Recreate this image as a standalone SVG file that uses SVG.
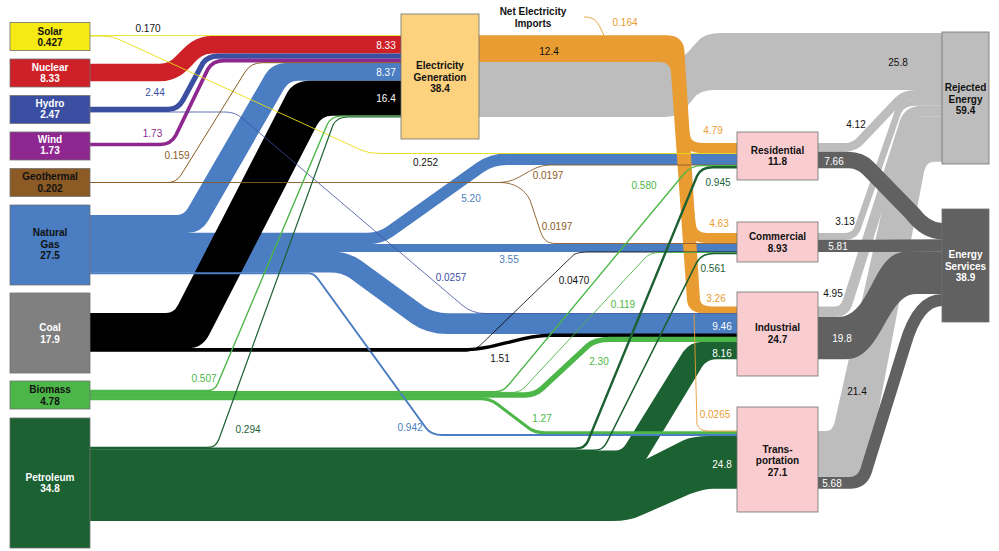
<svg xmlns="http://www.w3.org/2000/svg" width="999" height="551" viewBox="0 0 999 551">
<style>
text{font-family:"Liberation Sans",Arial,sans-serif;font-size:10px;text-anchor:middle}
.n{font-weight:700;font-size:10px}
.w{fill:#fff}
.k{fill:#111}
.box{stroke:#707070;stroke-width:0.8}
.f{fill:none;stroke-linecap:butt}
</style>
<rect width="999" height="551" fill="#fff"/>
<g id="connectors">
<!-- rejected from electricity -->
<path fill="#bdbdbd" d="M479,62 H662 Q680,62 688,52 L698,41 Q705,33 720,33 H942 V90 H714 Q700,90 694,98 L684,110 Q678,117 664,117 H479 Z"/>
<!-- sector to rejected -->
<path fill="#bdbdbd" d="M818,431 H826 Q833,431 835,421 L900,130 Q904,116.2 920,116.2 H942 V161.8 H934 Q926,161.8 924,172 L868,466 Q865,476.6 852,476.6 H818 Z"/>
<path class="f" stroke="#bdbdbd" stroke-width="8.8" d="M818,147.4 H845 Q855,147.4 862,139 L898,101 Q904,94.5 916,94.5 H942"/>
<path class="f" stroke="#bdbdbd" stroke-width="6.7" d="M818,236.3 H845 Q855,236.3 858,227 L898,112 Q902,102.4 915,102.4 H942"/>
<path class="f" stroke="#bdbdbd" stroke-width="10.5" d="M818,311.75 H835 Q845,311.75 848,301 L905,122 Q909,111 922,111 H942"/>
<!-- sector to services -->
<path class="f" stroke="#616161" stroke-width="16.3" d="M818,160 H848 Q860,160 868,168 L912,213 Q926,231.2 942,231.2"/>
<path class="f" stroke="#616161" stroke-width="12.4" d="M818,245.9 H870 C900,245.9 905,245.5 942,245.5"/>
<path fill="#616161" d="M818,317 H838 C872,317 872,251.7 906,251.7 H942 V293.9 H916 C886,293.9 882,359.2 846,359.2 H818 Z"/>
<path class="f" stroke="#616161" stroke-width="12.1" d="M818,482.7 H850 Q862,482.7 866,471 L905,345 Q918,300 942,300"/>
<!-- petroleum -->
<path fill="#1b6131" d="M90,468.2 H628 L683,440.5 Q692,436 710,436 H737 V488.8 H714 Q704,488.8 690,494 L642,515 Q630,521 612,521 H90 Z"/>
<path fill="#1b6131" d="M90,450.6 H615 Q622,450.6 626,444 L683,352 Q690,341.8 703,341.8 H737 V359.2 H716 Q707,359.2 702,367 L645,461 Q641,469 630,469 H90 Z"/>
<!-- natural gas -->
<path class="f" stroke="#4a7dc1" stroke-width="20.8" d="M90,262 H330 Q345,262 355,269 L418,315 Q430,323.6 448,323.6 H737"/>
<path class="f" stroke="#4a7dc1" stroke-width="8.2" d="M90,248 H737"/>
<path class="f" stroke="#4a7dc1" stroke-width="11.6" d="M90,238.5 H368 Q380,238.5 390,231.5 L480,167.5 Q492,159.25 507,159.25 H737"/>
<path fill="#4a7dc1" d="M90,215 H177 Q184,215 188,208 L265,75 Q272,62.9 287,62.9 H401 V80.8 H298 Q289,80.8 284,89 L208,221 Q201,233 187,233 H90 Z"/>
<!-- coal -->
<path fill="#000" d="M90,313 H166 Q174,313 178,305 L287,93 Q294,80.8 310,80.8 H401 V115.7 H332 Q322,115.7 317,125 L209,335 Q202,348.3 188,348.3 H90 Z"/>
<path class="f" stroke="#000" stroke-width="3.4" d="M90,349.6 H468 C495,349.6 520,335.3 550,335.3 H737"/>
<!-- biomass -->
<path class="f" stroke="#4cb748" stroke-width="5.4" d="M90,395 H525 Q535,395 542,388.6 L588,345.7 Q595,339.35 610,339.35 H737"/>
<path class="f" stroke="#4cb748" stroke-width="3" d="M90,398.85 H480 Q490,398.85 497,404 L528,427.5 Q534,432.65 545,432.65 H737"/>
<!-- nuclear, hydro, wind -->
<path class="f" stroke="#cd2027" stroke-width="17.7" d="M90,72.5 H160 C186,72.5 186,44.75 212,44.75 H401"/>
<path class="f" stroke="#3b4fa2" stroke-width="5.2" d="M90,109.4 H168 Q178,109.4 183,100 L203,63 Q208,56.2 218,56.2 H401"/>
<path class="f" stroke="#8e278f" stroke-width="3.7" d="M90,144.5 H160 Q171,144.5 176,135 L208,69 Q213,60.65 224,60.65 H401"/>
<!-- electricity -->
<path fill="#e99c32" d="M479,35.2 H666 Q684,35.2 684.5,52 L700,300 Q701,306.5 712,306.5 H737 V313.5 H706 Q688,313.5 687,300 L671,72 Q670,62 660,62 H479 Z"/>
<path class="f" stroke="#e99c32" stroke-width="10.2" d="M682,118 L685,136 Q687,148.1 702,148.1 H737"/>
<path class="f" stroke="#e99c32" stroke-width="10" d="M689,210 L691,226 Q693,238 707,238 H737"/>
<path class="f" stroke="#e99c32" stroke-width="0.9" d="M694,313 L697,424 Q699,431 708,431 H737"/>
<path class="f" stroke="#e99c32" stroke-width="0.9" d="M584,17 C595,17 597,22 600,27 L604,35.5"/>
<!-- thin lines -->
<path class="f" stroke="#e8dc10" stroke-width="0.8" d="M90,35.5 H401"/>
<path class="f" stroke="#e8dc10" stroke-width="0.9" d="M90,36 C104,36 110,36 118,39 L360,149.5 Q368,153.5 380,153.5 H737"/>
<path class="f" stroke="#3b4fa2" stroke-width="0.8" d="M90,112 H225 Q235,112 242,118 L462,305 Q472,313.5 485,313.5 H737"/>
<path class="f" stroke="#8b5a25" stroke-width="1" d="M90,182.5 H168 Q176,182.5 181,175 L245,72 Q251,62.7 262,62.7 H401"/>
<path class="f" stroke="#8b5a25" stroke-width="0.9" d="M90,182.5 H500 C520,182.5 530,165 550,165 H737"/>
<path class="f" stroke="#8b5a25" stroke-width="0.9" d="M500,182.5 C515,182.5 525,190 530,200 L540,230 C543,239 546,243.5 556,243.5 H737"/>
<path class="f" stroke="#4a7dc1" stroke-width="2" d="M90,273.2 H308 Q314,273.2 318,279 L426,428 Q431,435 442,435 H737"/>
<path class="f" stroke="#000" stroke-width="0.8" d="M90,351.4 H466 Q474,351.4 480,345.5 L574,254.5 Q578,252 590,252 H737"/>
<path class="f" stroke="#4cb748" stroke-width="1.4" d="M90,390.5 H208 Q215,390.5 218,383 L327,125 Q331,116.1 342,116.1 H401"/>
<path class="f" stroke="#4cb748" stroke-width="1.4" d="M90,391.7 H495 Q503,391.7 508,385.5 L683,175 Q690,165.6 702,165.6 H737"/>
<path class="f" stroke="#4cb748" stroke-width="0.9" d="M90,392.4 H512 Q520,392.4 525,387 L645,258 Q650,252.5 660,252.5 H737"/>
<path class="f" stroke="#1b6131" stroke-width="1.2" d="M90,447.4 H208 Q216,447.4 219,439 L333,125 Q337,117 348,117 H401"/>
<path class="f" stroke="#1b6131" stroke-width="2.4" d="M90,448.6 H575 Q585,448.6 588,441 L697,176 Q701,167.3 713,167.3 H737"/>
<path class="f" stroke="#1b6131" stroke-width="1.6" d="M90,450.2 H595 Q603,450.2 607,442 L697,262 Q702,253.5 714,253.5 H737"/>
</g>
<g id="node-solar"><rect class="box" x="10" y="22.5" width="80" height="28" fill="#f5ea14"/><text class="n k" x="50" y="34.5">Solar</text><text class="n k" x="50" y="46">0.427</text></g>
<g id="node-nuclear"><rect class="box" x="10" y="59" width="80" height="28" fill="#cd2027"/><text class="n w" x="50" y="70.5">Nuclear</text><text class="n w" x="50" y="82">8.33</text></g>
<g id="node-hydro"><rect class="box" x="10" y="95.5" width="80" height="28" fill="#3b4fa2"/><text class="n w" x="50" y="106.5">Hydro</text><text class="n w" x="50" y="118">2.47</text></g>
<g id="node-wind"><rect class="box" x="10" y="132" width="80" height="28" fill="#8e278f"/><text class="n w" x="50" y="142.5">Wind</text><text class="n w" x="50" y="154">1.73</text></g>
<g id="node-geothermal"><rect class="box" x="10" y="168.5" width="80" height="28" fill="#8b5a25"/><text class="n k" x="50" y="180">Geothermal</text><text class="n k" x="50" y="191.5">0.202</text></g>
<g id="node-natural-gas"><rect class="box" x="10" y="205" width="80" height="80" fill="#4a7dc1"/><text class="n k" x="50" y="236">Natural</text><text class="n k" x="50" y="247.5">Gas</text><text class="n k" x="50" y="259">27.5</text></g>
<g id="node-coal"><rect class="box" x="10" y="293" width="80" height="80" fill="#808080"/><text class="n w" x="50" y="331">Coal</text><text class="n w" x="50" y="342.5">17.9</text></g>
<g id="node-biomass"><rect class="box" x="10" y="381" width="80" height="28" fill="#4cb748"/><text class="n k" x="50" y="393">Biomass</text><text class="n k" x="50" y="404.5">4.78</text></g>
<g id="node-petroleum"><rect class="box" x="10" y="418" width="80" height="130" fill="#1b6131"/><text class="n w" x="50" y="480.5">Petroleum</text><text class="n w" x="50" y="492">34.8</text></g>
<g id="node-electricity"><rect class="box" x="401" y="14" width="78" height="125" fill="#fdd27e"/><text class="n k" x="440" y="69">Electricity</text><text class="n k" x="440" y="80.5">Generation</text><text class="n k" x="440" y="92">38.4</text></g>
<g id="node-imports"><text class="n k" x="533" y="15">Net Electricity</text><text class="n k" x="533" y="26.5">Imports</text></g>
<g id="node-residential"><rect class="box" x="737" y="132" width="81" height="48" fill="#f9ccd0"/><text class="n k" x="777.5" y="153.5">Residential</text><text class="n k" x="777.5" y="165">11.8</text></g>
<g id="node-commercial"><rect class="box" x="737" y="222" width="81" height="40" fill="#f9ccd0"/><text class="n k" x="777.5" y="240">Commercial</text><text class="n k" x="777.5" y="251.5">8.93</text></g>
<g id="node-industrial"><rect class="box" x="737" y="292" width="81" height="84" fill="#f9ccd0"/><text class="n k" x="777.5" y="331">Industrial</text><text class="n k" x="777.5" y="342.5">24.7</text></g>
<g id="node-transportation"><rect class="box" x="737" y="407" width="81" height="105" fill="#f9ccd0"/><text class="n k" x="777.5" y="452.5">Trans-</text><text class="n k" x="777.5" y="464">portation</text><text class="n k" x="777.5" y="475.5">27.1</text></g>
<g id="node-rejected"><rect class="box" x="942" y="32" width="47" height="132" fill="#bdbdbd"/><text class="n k" x="965.5" y="91">Rejected</text><text class="n k" x="965.5" y="102.5">Energy</text><text class="n k" x="965.5" y="114">59.4</text></g>
<g id="node-services"><rect class="box" x="942" y="209" width="47" height="113" fill="#616161"/><text class="n w" x="965.5" y="258">Energy</text><text class="n w" x="965.5" y="269.5">Services</text><text class="n w" x="965.5" y="281">38.9</text></g>
<g id="labels">
<text x="148" y="31.5" fill="#111">0.170</text>
<text x="386" y="48.5" class="w">8.33</text>
<text x="386" y="75.5" class="w">8.37</text>
<text x="386" y="101.5" class="w">16.4</text>
<text x="155" y="95.5" fill="#3b4fa2">2.44</text>
<text x="152.5" y="136.5" fill="#8e278f">1.73</text>
<text x="177" y="158.5" fill="#8b5a25">0.159</text>
<text x="425.5" y="165.5" fill="#111">0.252</text>
<text x="625" y="25.5" fill="#e99c32">0.164</text>
<text x="549" y="54.5" fill="#111">12.4</text>
<text x="713" y="133.5" fill="#e99c32">4.79</text>
<text x="719" y="226.5" fill="#e99c32">4.63</text>
<text x="716" y="301.5" fill="#e99c32">3.26</text>
<text x="715" y="417.5" fill="#e99c32">0.0265</text>
<text x="471" y="201.5" fill="#4a7dc1">5.20</text>
<text x="548" y="178.5" fill="#8b5a25">0.0197</text>
<text x="557" y="229.5" fill="#8b5a25">0.0197</text>
<text x="644" y="188.5" fill="#4cb748">0.580</text>
<text x="718" y="185.5" fill="#1b6131">0.945</text>
<text x="509" y="262.5" fill="#4a7dc1">3.55</text>
<text x="574" y="283.5" fill="#111">0.0470</text>
<text x="713" y="271.5" fill="#1b6131">0.561</text>
<text x="451" y="280.5" fill="#3b4fa2">0.0257</text>
<text x="623" y="307.5" fill="#4cb748">0.119</text>
<text x="722" y="329.5" class="w">9.46</text>
<text x="500" y="361.5" fill="#111">1.51</text>
<text x="599" y="364.5" fill="#4cb748">2.30</text>
<text x="722" y="356.5" class="w">8.16</text>
<text x="204" y="381.5" fill="#4cb748">0.507</text>
<text x="248" y="432.5" fill="#1b6131">0.294</text>
<text x="410" y="430.5" fill="#4a7dc1">0.942</text>
<text x="542" y="421.5" fill="#4cb748">1.27</text>
<text x="722" y="467.5" class="w">24.8</text>
<text x="898" y="65.5" fill="#111">25.8</text>
<text x="856" y="127.5" fill="#111">4.12</text>
<text x="834" y="164.5" class="w">7.66</text>
<text x="845" y="224.5" fill="#111">3.13</text>
<text x="838" y="250" class="w">5.81</text>
<text x="833" y="296.5" fill="#111">4.95</text>
<text x="842" y="341.5" class="w">19.8</text>
<text x="857" y="394.5" fill="#111">21.4</text>
<text x="832" y="486.5" class="w">5.68</text>
</g>
</svg>
